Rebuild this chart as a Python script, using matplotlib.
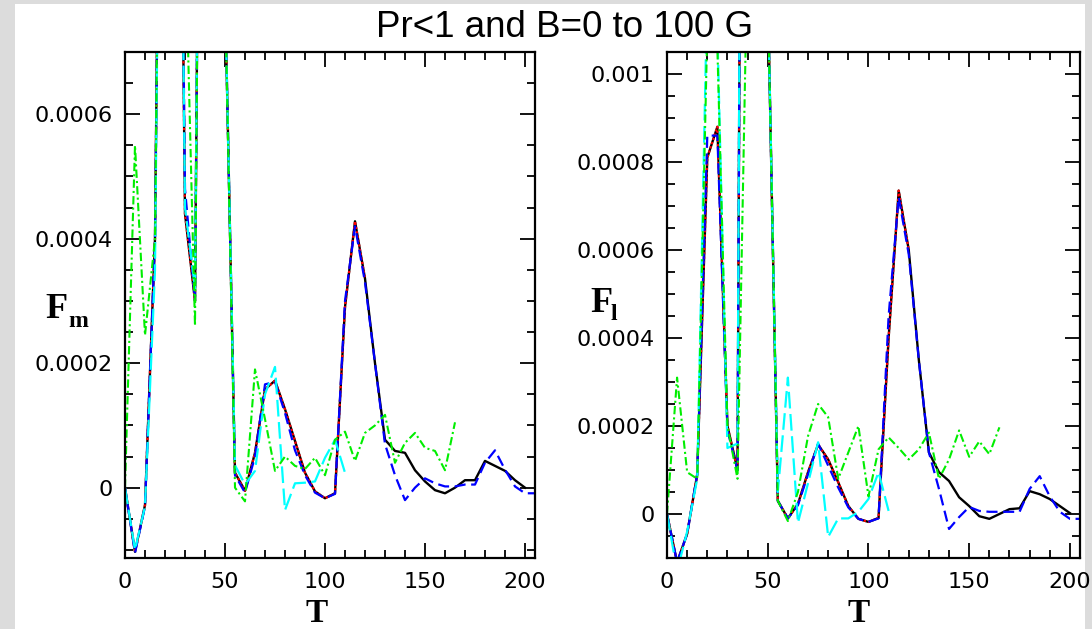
import numpy as np
import matplotlib
matplotlib.use("Agg")
import matplotlib.pyplot as plt
from matplotlib.ticker import MultipleLocator, FuncFormatter
from matplotlib.patches import Rectangle

# ── data ──────────────────────────────────────────────────────────────────
T_BLACK = np.arange(0, 201, 5)
T_BLUE = np.arange(0, 206, 5)
T_CYAN = np.arange(0, 111, 5)
T_GREEN = np.arange(0, 166, 5)
N_RED = 25  # red dotted run stops at T=120 and traces the black one

fm_black = [0, -0.000103, -0.000028, 0.0004, 0.002, 0.002, 0.00044, 0.0003, 0.0023, 0.002,
            0.0008, 0.000024, -0.000005, 0.000056, 0.000158, 0.000172, 0.000126, 0.000075,
            0.000024, -0.000006, -0.000017, -0.000009, 0.00029, 0.000428, 0.000336, 0.0002,
            0.000077, 0.000059, 0.000056, 0.000028, 0.00001, -0.000004, -0.000009, 0.0,
            0.000012, 0.000012, 0.000043, 0.000035, 0.000027, 0.000012, 0.0]
fm_blue = [0, -0.000105, -0.00003, 0.0004, 0.002, 0.002, 0.00048, 0.0003, 0.0023, 0.002,
           0.0008, 0.00002, -0.000008, 0.00005, 0.000166, 0.00017, 0.00012, 0.00006,
           0.00002, -0.000008, -0.000017, -0.00001, 0.0003, 0.00042, 0.00033, 0.0002,
           0.00007, 0.00002, -0.00002, 0.0, 0.000015, 0.000007, 0.000002, 0.000002,
           0.000005, 0.000005, 0.00004, 0.00006, 0.000029, 0.000002, -0.000009, -0.000009]
fm_cyan = [0, -0.0001, -0.00003, 0.00035, 0.002, 0.002, 0.00045, 0.00032, 0.0023, 0.002,
           0.0008, 0.000036, 0.000005, 0.000027, 0.00015, 0.000194, -0.000036, 0.000007,
           0.000008, 0.00001, 0.000048, 0.000077, 0.000024]
fm_green = [0, 0.00055, 0.000245, 0.0004, 0.002, 0.002, 0.0009, 0.00026, 0.0023, 0.002,
            0.0008, 0.0, -0.000022, 0.00019, 0.00011, 0.000027, 0.00005, 0.000035,
            0.00003, 0.000048, 0.00002, 0.000077, 0.00009, 0.000043, 0.000088, 0.0001,
            0.000117, 0.00004, 0.000072, 0.000088, 0.000064, 0.000059, 0.000028, 0.000105]

fl_black = [0, -0.00011, -0.000045, 0.00009, 0.00081, 0.00088, 0.0002, 0.0001, 0.005, 0.004,
            0.0012, 0.00003, -0.00001, 0.000023, 0.000095, 0.000158, 0.000124, 0.000072,
            0.000018, -0.000011, -0.000018, -0.000009, 0.0004, 0.000735, 0.0006, 0.00035,
            0.00014, 0.000095, 0.000075, 0.000038, 0.000018, -0.000005, -0.000011, 0.0,
            0.000011, 0.000013, 0.000052, 0.000045, 0.000034, 0.000018, 0.000002]
fl_blue = [0, -0.00011, -0.000045, 0.00009, 0.00086, 0.00086, 0.00019, 0.0001, 0.005, 0.004,
           0.0012, 0.00003, -0.00001, 0.00002, 0.00009, 0.00016, 0.00011, 0.00006,
           0.000015, -0.000011, -0.000018, -0.00001, 0.00045, 0.00072, 0.00059, 0.00035,
           0.00014, 0.000057, -0.000034, -0.000007, 0.000016, 0.000007, 0.000005, 0.000005,
           0.000005, 0.000005, 0.000057, 0.000086, 0.00004, 0.000005, -0.000011, -0.000011]
fl_cyan = [0, -0.00013, -0.00004, 0.00008, 0.0012, 0.0011, 0.00015, 0.00016, 0.005, 0.004,
           0.0012, 0.00005, 0.00031, -0.00002, 0.00007, 0.000163, -0.000052, -0.00001,
           -0.00001, 0.000005, 0.000034, 0.000095, 0.000007]
fl_green = [0, 0.00031, 0.000095, 0.00008, 0.0011, 0.00106, 0.0002, 0.00008, 0.0013, 0.004,
            0.0012, 0.00003, -0.000016, 0.00005, 0.000177, 0.00025, 0.00022, 0.00008,
            0.00014, 0.0002, 0.00004, 0.000147, 0.000174, 0.00015, 0.000124, 0.000147,
            0.000185, 0.00008, 0.000124, 0.00019, 0.00013, 0.000165, 0.000136, 0.000197]

W, H = 1092, 629
fig = plt.figure(figsize=(W / 100, H / 100), dpi=100, facecolor="#dcdcdc")
fig.patches.append(Rectangle((15 / W, 0), (1085 - 15) / W, 1 - 4 / H,
                             transform=fig.transFigure, facecolor="white",
                             edgecolor="none", zorder=-10))

TICKFONT = "DejaVu Sans"
LABFONT = "Liberation Serif"


def panel(rect, black, blue, cyan, green, ylim, ymax_tick):
    ax = fig.add_axes(rect)
    ax.plot(T_BLACK, black, color="black", lw=1.7)
    ax.plot(T_BLACK[:N_RED], black[:N_RED], color="red", lw=1.6, dashes=(1, 1))
    ax.plot(T_BLUE, blue, color="blue", lw=1.6, dashes=(5, 2.5))
    ax.plot(T_CYAN, cyan, color="cyan", lw=1.6, dashes=(7.5, 2.5))
    ax.plot(T_GREEN, green, color="#00ee00", lw=1.5, dashes=(4, 1.5, 1, 1.5))
    ax.set_xlim(0, 205)
    ax.set_ylim(*ylim)
    ax.xaxis.set_major_locator(MultipleLocator(50))
    ax.xaxis.set_minor_locator(MultipleLocator(10))
    ax.set_yticks(np.arange(0, ymax_tick + 1e-9, 0.0002))
    ax.yaxis.set_minor_locator(MultipleLocator(0.00005))
    ax.yaxis.set_major_formatter(FuncFormatter(lambda v, _: f"{round(v, 6):g}"))
    ax.tick_params(which="both", direction="in", top=True, right=True, width=1.3)
    ax.tick_params(which="major", length=11)
    ax.tick_params(which="minor", length=6)
    ax.tick_params(axis="y", pad=9)
    ax.tick_params(axis="x", pad=10)
    for lab in ax.get_xticklabels() + ax.get_yticklabels():
        lab.set_fontfamily(TICKFONT)
        lab.set_fontsize(16)
    for s in ax.spines.values():
        s.set_linewidth(1.6)
    return ax


panel([125 / W, 1 - 558 / H, 410 / W, 506 / H], fm_black, fm_blue, fm_cyan, fm_green,
      (-0.000113, 0.0007), 0.0006)
panel([667 / W, 1 - 558 / H, 413 / W, 506 / H], fl_black, fl_blue, fl_cyan, fl_green,
      (-0.0001, 0.00105), 0.001)

fig.text(565 / W, 1 - 37 / H, "Pr<1 and B=0 to 100 G", ha="center", va="baseline",
         fontsize=26.5, family="Liberation Sans")

# axis labels
for xc in (317 / W, 859 / W):
    fig.text(xc, 1 - 622 / H, "T", ha="center", va="baseline", fontsize=24,
             family=LABFONT, weight="bold")
fig.text(45 / W, 1 - 318 / H, "F", ha="left", va="baseline", fontsize=26,
         family=LABFONT, weight="bold")
fig.text(68 / W, 1 - 327 / H, "m", ha="left", va="baseline", fontsize=17,
         family=LABFONT, weight="bold")
fig.text(590 / W, 1 - 312 / H, "F", ha="left", va="baseline", fontsize=26,
         family=LABFONT, weight="bold")
fig.text(611 / W, 1 - 320 / H, "l", ha="left", va="baseline", fontsize=17,
         family=LABFONT, weight="bold")

fig.savefig("out.png", dpi=100, facecolor=fig.get_facecolor())
